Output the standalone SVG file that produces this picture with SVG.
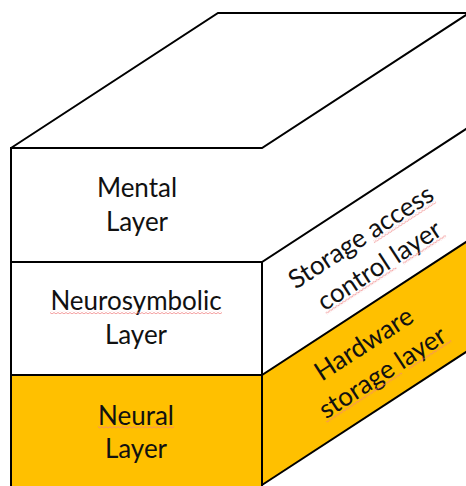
<svg xmlns="http://www.w3.org/2000/svg" width="466" height="486" viewBox="0 0 466 486">
<defs>
<pattern id="wave" width="4" height="3" patternUnits="userSpaceOnUse"><path d="M0,2 L2,0.5 L4,2" fill="none" stroke="#f08080" stroke-width="0.8"/></pattern>
</defs>
<style>
.edge{fill:none;stroke:#000;stroke-width:2;stroke-linejoin:miter}
.gold{fill:#FFC000;stroke:none}
.lbl{font-family:Lato,"Open Sans","Liberation Sans",sans-serif;font-size:26px;fill:#111;text-anchor:middle}
.sq{fill:url(#wave);stroke:none}
</style>
<rect width="466" height="486" fill="#fff"/>
<g id="side-hardware">
<polygon class="gold" points="262,375 468,241 468,351 262,485"/>
</g>
<g id="front-neural">
<rect class="gold" x="11" y="375" width="251" height="112"/>
</g>
<g id="connectors">
<path class="edge" d="M11,148 L218,13 L470,13 M469,13 L262,148 L11,148 L11,487"/>
<path class="edge" d="M11,262 L262,262 L469,127"/>
<path class="edge" d="M11,375 L262,375 L469,240"/>
<path class="edge" d="M262,262 L262,487"/>
<path class="edge" d="M262,485 L469,350"/>
</g>
<g id="mental-layer">
<text class="lbl" x="137" y="197">Mental</text>
<text class="lbl" x="137" y="231">Layer</text>
</g>
<g id="neurosymbolic-layer">
<text class="lbl" x="136" y="310">Neurosymbolic</text>
<text class="lbl" x="136" y="344">Layer</text>
<rect class="sq" x="50" y="311" width="172" height="3"/>
</g>
<g id="neural-layer">
<text class="lbl" x="136" y="425">Neural</text>
<text class="lbl" x="136" y="458">Layer</text>
<rect class="sq" x="98" y="426" width="76" height="3"/>
</g>
<g id="storage-access-control-layer" transform="translate(370,251) rotate(-33)">
<text class="lbl" x="0" y="-8">Storage access</text>
<text class="lbl" x="0" y="26">control layer</text>
<rect class="sq" x="8" y="-7" width="74" height="3"/>
<rect class="sq" x="-71" y="27" width="84" height="3"/>
<rect class="sq" x="21" y="27" width="51" height="3"/>
</g>
<g id="hardware-storage-layer" transform="translate(373,358) rotate(-33)">
<text class="lbl" x="0" y="-8">Hardware</text>
<text class="lbl" x="0" y="26">storage layer</text>
<rect class="sq" x="-74" y="27" width="90" height="3"/>
<rect class="sq" x="24" y="27" width="51" height="3"/>
</g>
</svg>
